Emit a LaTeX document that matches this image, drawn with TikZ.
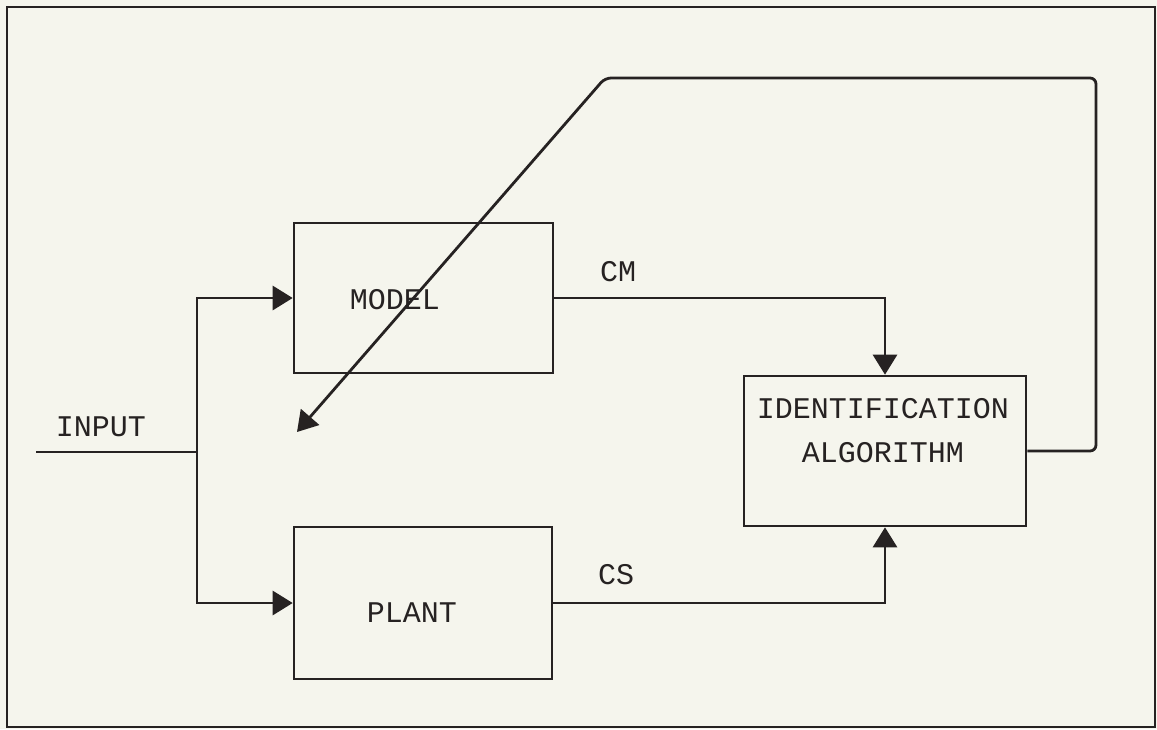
\documentclass[tikz,border=0pt]{standalone}
\usepackage{fontspec}
\setmonofont{Liberation Mono}
\usetikzlibrary{arrows.meta}
\definecolor{paper}{RGB}{245,245,237}
\definecolor{ink}{RGB}{38,34,34}
\begin{document}
\begin{tikzpicture}[x=0.5pt,y=-0.5pt,
  every node/.style={text=ink},
  blk/.style={draw=ink, line width=1.3pt, rectangle, inner sep=0pt},
  txt/.style={font=\ttfamily\fontsize{15}{22}\selectfont, inner sep=0pt, align=center},
  wire/.style={draw=ink, line width=1.4pt},
  arr/.style={wire, -{Triangle[length=10pt,width=12pt]}},
  frame/.style={draw=ink, line width=1pt}]
\fill[paper] (0,0) rectangle (1157,729);
\useasboundingbox (0,0) rectangle (1157,729);
\draw[frame] (7,7) rectangle (1155,727);

% blocks
\node[blk, minimum width=129.5pt, minimum height=75pt] (model) at (423.5,298) {};
\node[blk, minimum width=129pt, minimum height=76pt] (plant) at (423,603) {};
\node[blk, minimum width=141pt, minimum height=75pt] (id) at (885,451) {};

% texts
\node[txt] (modeltxt) at (395,300) {MODEL};
\node[txt] (planttxt) at (412,613) {PLANT};
\node[txt] (idtxt) at (883,431) {IDENTIFICATION\\ALGORITHM};
\node[txt] (inputtxt) at (101,427) {INPUT};
\node[txt] (cmtxt) at (618,272) {CM};
\node[txt] (cstxt) at (616,575) {CS};

% coordinates
\coordinate (inp) at (36,452);
\coordinate (split) at (197,452);
\coordinate (fbR) at (1096,78);
\coordinate (fbL) at (605,78);
\coordinate (fbtip) at (297,432);

% connectors
\draw[wire] (inp) -- (split);
\draw[arr] (split) |- (model.west);
\draw[arr] (split) |- (plant.west);
\draw[arr] (model.east) -| (id.north);
\draw[arr] (plant.east) -| (id.south);
\draw[arr, rounded corners=3pt] (id.east) -- (id.east -| fbR) -- (fbR) -- (fbL) -- (fbtip);
\end{tikzpicture}
\end{document}
